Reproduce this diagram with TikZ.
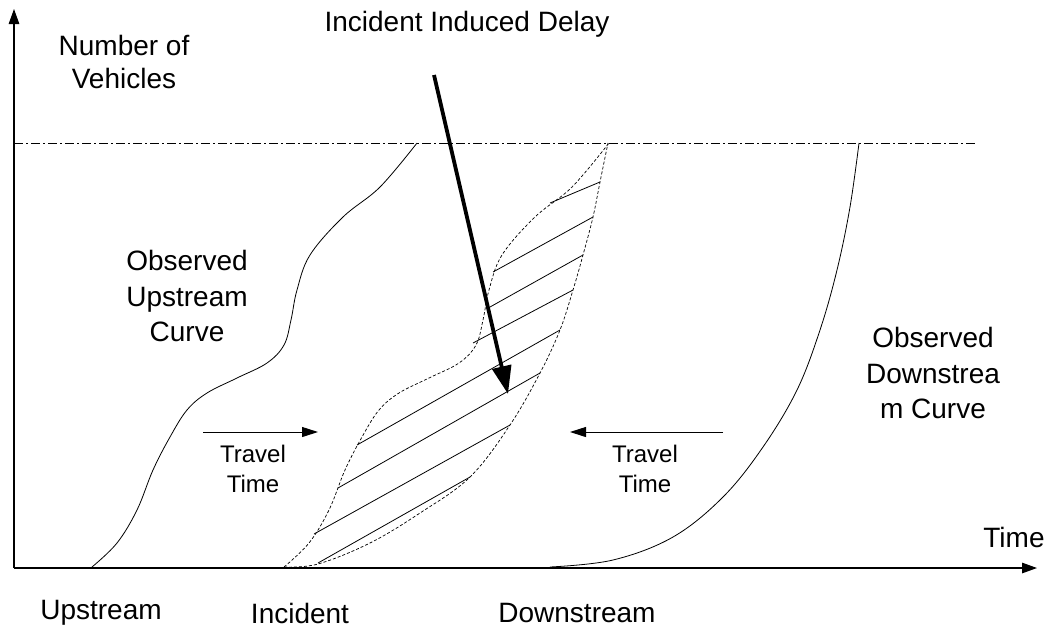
\documentclass[tikz,border=0pt]{standalone}
\usepackage{fontspec}
\setmainfont{Liberation Sans}
\usetikzlibrary{arrows.meta}
\begin{document}
\begin{tikzpicture}[x=1pt,y=-1pt,
  lbl/.style={inner sep=0pt,align=center,font=\fontsize{28}{35.5}\selectfont},
  lblsmall/.style={inner sep=0pt,align=center,font=\fontsize{24}{30}\selectfont},
  axis/.style={line width=1.2pt,-{Triangle[length=15pt,width=10.5pt]}},
  tt/.style={line width=1pt,-{Triangle[length=16pt,width=10pt]}},
  curve/.style={line width=0.8pt},
  dcurve/.style={line width=0.7pt,dash pattern=on 3pt off 2pt},
  hatch/.style={line width=0.8pt},
  dashdot/.style={line width=0.7pt,dash pattern=on 9pt off 3pt on 2pt off 3pt},
  big/.style={line width=3.8pt,-{Triangle[length=28pt,width=19pt]}}]
\useasboundingbox (0,0) rectangle (1049,630);

% axes
\coordinate (O) at (14,568);
\coordinate (Ytop) at (14,9);
\coordinate (Xend) at (1037,568);
\draw[axis] (O) -- (Ytop);
\draw[axis] (O) -- (Xend);

% level line
\coordinate (L1) at (14,143);
\coordinate (L2) at (975,143);
\draw[dashdot] (L1) -- (L2);

% observed upstream curve
\draw[curve] plot[smooth,tension=0.6] coordinates {(92,567) (117,543) (137,510) (153,470) (170,437) (187,410) (207,393) (237,378) (267,363) (284,345) (291,320) (297,290) (310,255) (343,217) (380,187) (417,143)};

% shifted upstream (dashed)
\draw[dcurve,xshift=192pt] plot[smooth,tension=0.6] coordinates {(92,567) (117,543) (137,510) (153,470) (170,437) (187,410) (207,393) (237,378) (267,363) (284,345) (291,320) (297,290) (310,255) (343,217) (380,187) (417,143)};

% shifted downstream (dashed)
\draw[dcurve] plot[smooth,tension=0.6] coordinates {(284,567) (318,564) (370,543) (420,513) (470,477) (510,425) (540,373) (560,330) (573,290) (583,255) (593,217) (600,182) (608,143)};

% observed downstream curve
\draw[curve] plot[smooth,tension=0.6] coordinates {(550,567) (613,560) (673,537) (723,497) (763,447) (797,390) (820,330) (837,270) (850,207) (859,143)};

% hatch lines
\draw[hatch] (318,563) -- (470,477);
\draw[hatch] (314,534) -- (510,425);
\draw[hatch] (338,488) -- (540,373);
\draw[hatch] (357,445) -- (560,330);
\draw[hatch] (473,343) -- (573,290);
\draw[hatch] (490,307) -- (583,255);
\draw[hatch] (493,272) -- (593,217);
\draw[hatch] (550,203) -- (600,182);

% labels
\node[lbl,font=\fontsize{28}{33}\selectfont] (nv) at (124,62) {Number of\\Vehicles};
\node[lbl] (iid) at (467,24) {Incident Induced Delay};
\node[lbl] (ouc) at (187,296) {Observed\\Upstream\\Curve};
\node[lbl] (odc) at (933,373) {Observed\\Downstrea\\m Curve};
\node[lblsmall] (tt1) at (253,469) {Travel\\Time};
\node[lblsmall] (tt2) at (645,469) {Travel\\Time};
\node[lbl] (time) at (1014,537) {Time};
\node[lbl] (up) at (101,613) {Upstream};
\node[lbl] (inc) at (300,613) {Incident};
\node[lbl] (down) at (577,613) {Downstream};

% travel time arrows
\coordinate (ta1) at (203,432);
\coordinate (tb1) at (318,432);
\draw[tt] (ta1) -- (tb1);
\coordinate (ta2) at (723,432);
\coordinate (tb2) at (570,432);
\draw[tt] (ta2) -- (tb2);

% big arrow
\coordinate (bs) at (434,75);
\coordinate (be) at (508,394);
\draw[big] (bs) -- (be);
\end{tikzpicture}
\end{document}
